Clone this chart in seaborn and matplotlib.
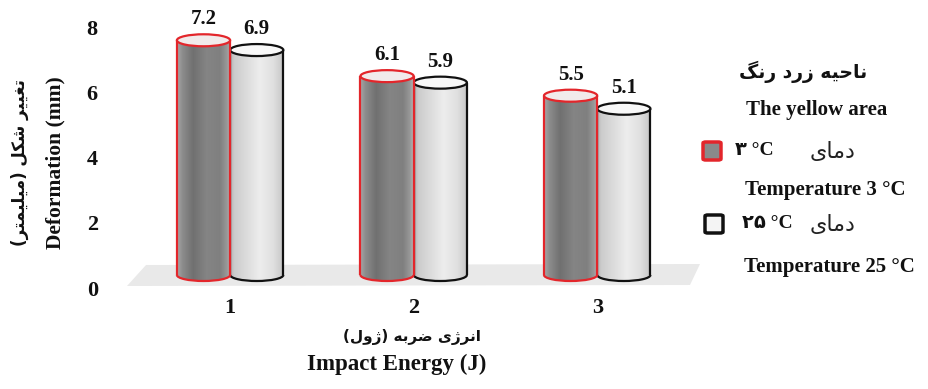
import numpy as np
import pandas as pd
import matplotlib
matplotlib.use("Agg")
import matplotlib.pyplot as plt
import seaborn as sns
from matplotlib.patches import Rectangle, Ellipse, Arc, Polygon, FancyBboxPatch
from matplotlib.transforms import ScaledTranslation

# ---------------- data ----------------
energies = ["1", "2", "3"]
temps = ["3 °C", "25 °C"]
deform_3c = [7.2, 6.1, 5.5]
deform_25c = [6.9, 5.9, 5.1]
yticks = [0, 2, 4, 6, 8]

# ---------------- minimal Persian shaping ----------------
FORMS = {
    'ا': ('\uFE8D', '\uFE8E', None, None),
    'ب': ('\uFE8F', '\uFE90', '\uFE91', '\uFE92'),
    'ت': ('\uFE95', '\uFE96', '\uFE97', '\uFE98'),
    'ح': ('\uFEA1', '\uFEA2', '\uFEA3', '\uFEA4'),
    'د': ('\uFEA9', '\uFEAA', None, None),
    'ر': ('\uFEAD', '\uFEAE', None, None),
    'ز': ('\uFEAF', '\uFEB0', None, None),
    'ژ': ('\uFB8A', '\uFB8B', None, None),
    'ش': ('\uFEB5', '\uFEB6', '\uFEB7', '\uFEB8'),
    'ض': ('\uFEBD', '\uFEBE', '\uFEBF', '\uFEC0'),
    'غ': ('\uFECD', '\uFECE', '\uFECF', '\uFED0'),
    'ک': ('\uFB8E', '\uFB8F', '\uFB90', '\uFB91'),
    'گ': ('\uFB92', '\uFB93', '\uFB94', '\uFB95'),
    'ل': ('\uFEDD', '\uFEDE', '\uFEDF', '\uFEE0'),
    'م': ('\uFEE1', '\uFEE2', '\uFEE3', '\uFEE4'),
    'ن': ('\uFEE5', '\uFEE6', '\uFEE7', '\uFEE8'),
    'ه': ('\uFEE9', '\uFEEA', '\uFEEB', '\uFEEC'),
    'و': ('\uFEED', '\uFEEE', None, None),
    'ی': ('\uFBFC', '\uFBFD', '\uFBFE', '\uFBFF'),
}


def fa(s):
    chars = list(s)
    out = []
    for i, c in enumerate(chars):
        if c not in FORMS:
            out.append(c)
            continue
        prev = chars[i - 1] if i > 0 else None
        nxt = chars[i + 1] if i + 1 < len(chars) else None
        cp = prev in FORMS and FORMS[prev][2] is not None
        cn = FORMS[c][2] is not None and nxt in FORMS
        iso, fin, ini, med = FORMS[c]
        out.append(med if (cp and cn) else fin if cp else ini if cn else iso)
    vis = ''.join(out)[::-1]
    mirror = {'(': ')', ')': '('}
    return ''.join(mirror.get(c, c) for c in vis)


# ---------------- style ----------------
sns.set_style("white")
plt.rcParams['font.family'] = ['Liberation Serif', 'DejaVu Sans']
plt.rcParams['font.weight'] = 'bold'

W, H = 929, 389
fig = plt.figure(figsize=(W / 100, H / 100), dpi=100)


def fx(px):
    return px / W


def fy(py):
    return 1 - py / H


# axes: y=0 at 275px, 32.6 px per unit
ppu = 32.6
ymin, ymax = -0.5, 8.0
ax_left, ax_right = 120, 700
ax_bottom = 275 - ymin * ppu
ax_top = 275 - ymax * ppu
ax = fig.add_axes([fx(ax_left), fy(ax_bottom), (ax_right - ax_left) / W,
                   (ax_bottom - ax_top) / H])

# floor band (decoration)
floor = Polygon([[fx(127), fy(286)], [fx(146), fy(265)], [fx(700), fy(264)],
                 [fx(690), fy(285)]], closed=True, transform=fig.transFigure,
                facecolor='#e9e9e9', edgecolor='none', zorder=0)
fig.add_artist(floor)
ax.set_facecolor('none')

df = pd.DataFrame({
    "energy": energies * 2,
    "deformation": deform_3c + deform_25c,
    "temp": [temps[0]] * 3 + [temps[1]] * 3,
})
sns.barplot(data=df, x="energy", y="deformation", hue="temp",
            hue_order=temps, order=energies, width=0.58,
            palette=["#808080", "#dddddd"], legend=False, ax=ax,
            errorbar=None)

ax.set_xlim(-0.6, 2.56)
ax.set_ylim(ymin, ymax)

ell_h = 12 / ppu


def gradient(stops, n=200):
    xs = np.linspace(0, 1, n)
    pos = [s[0] for s in stops]
    val = [s[1] for s in stops]
    g = np.interp(xs, pos, val)
    return np.dstack([g, g, g]).reshape(1, n, 3)


grad_dark = gradient([(0, 0.66), (0.1, 0.55), (0.3, 0.44), (0.55, 0.52),
                      (0.8, 0.50), (0.93, 0.60), (1.0, 0.72)])
grad_light = gradient([(0, 0.70), (0.08, 0.80), (0.3, 0.86), (0.55, 0.93),
                       (0.8, 0.88), (0.95, 0.80), (1.0, 0.72)])

styles = [
    dict(grad=grad_dark, edge='#e3262b', top='#f1ebeb', z=4),
    dict(grad=grad_light, edge='#111111', top='#f8f8f8', z=3),
]

for cont, st in zip(ax.containers, styles):
    for bar in cont:
        x0 = bar.get_x()
        w = bar.get_width()
        h = bar.get_height()
        bar.set_alpha(0)
        cx = x0 + w / 2
        z = st['z']
        # body
        im = ax.imshow(st['grad'], extent=(x0, x0 + w, -ell_h, h),
                       aspect='auto', zorder=z, interpolation='bilinear')
        clip = Rectangle((x0, 0), w, h, transform=ax.transData)
        im.set_clip_path(clip)
        # bottom half ellipse
        im2 = ax.imshow(st['grad'], extent=(x0, x0 + w, -ell_h, h),
                        aspect='auto', zorder=z, interpolation='bilinear')
        clip2 = Ellipse((cx, 0), w, ell_h, transform=ax.transData)
        im2.set_clip_path(clip2)
        # outlines
        ax.plot([x0, x0], [0, h], color=st['edge'], lw=1.6, zorder=z + 0.1,
                solid_capstyle='butt')
        ax.plot([x0 + w, x0 + w], [0, h], color=st['edge'], lw=1.6,
                zorder=z + 0.1, solid_capstyle='butt')
        ax.add_patch(Arc((cx, 0), w, ell_h, theta1=180, theta2=360,
                         color=st['edge'], lw=1.6, zorder=z + 0.1))
        ax.add_patch(Ellipse((cx, h), w, ell_h, facecolor=st['top'],
                             edgecolor=st['edge'], lw=1.6, zorder=z + 0.2))
        ax.annotate(f"{h:.1f}", (cx, h), xytext=(0, 21),
                    textcoords='offset pixels', ha='center', va='center',
                    fontsize=15, fontweight='bold', color='#111111',
                    zorder=10)

ax.set_ylim(ymin, ymax)
ax.set_xlim(-0.6, 2.56)
ax.set_yticks(yticks)
ax.set_yticklabels([str(v) for v in yticks])
ax.tick_params(axis='both', length=0, labelsize=16, colors='#111111')
ax.tick_params(axis='y', pad=16)
ax.tick_params(axis='x', pad=5)
for lab in ax.get_yticklabels() + ax.get_xticklabels():
    lab.set_fontweight('bold')
shift = ScaledTranslation(0, -0.13, fig.dpi_scale_trans)
for lab in ax.get_yticklabels():
    lab.set_transform(lab.get_transform() + shift)
for s in ax.spines.values():
    s.set_visible(False)
ax.set_xlabel("")
ax.set_ylabel("")

# axis titles
fig.text(fx(20), fy(163), fa("تغییر شکل (میلیمتر)"), rotation=90,
         ha='center', va='center', fontsize=12, fontweight='bold',
         family=['DejaVu Sans'], color='#111111')
fig.text(fx(55), fy(163), "Deformation (mm)", rotation=90, ha='center',
         va='center', fontsize=15.5, fontweight='bold', color='#111111')
fig.text(fx(412), fy(337), fa("انرژی ضربه (ژول)"), ha='center', va='center',
         fontsize=11, fontweight='bold', family=['DejaVu Sans'],
         color='#111111')
fig.text(fx(397), fy(364), "Impact Energy (J)", ha='center', va='center',
         fontsize=16.5, fontweight='bold', color='#111111')

# legend
fig.text(fx(803), fy(72), fa("ناحیه زرد رنگ"), ha='center', va='center',
         fontsize=13.5, fontweight='bold', family=['DejaVu Sans'],
         color='#111111')
fig.text(fx(817), fy(110), "The yellow area", ha='center', va='center',
         fontsize=15, fontweight='bold', color='#111111')


def legend_box(cx, cy, face, edge):
    s = 18
    p = FancyBboxPatch((fx(cx - s / 2), fy(cy + s / 2)), s / W, s / H,
                       boxstyle="round,pad=0,rounding_size=0.003",
                       transform=fig.transFigure, facecolor=face,
                       edgecolor=edge, lw=2.5)
    fig.add_artist(p)


legend_box(712, 151, '#8a8a8a', '#e3262b')
fig.text(fx(735), fy(151), "۳ °C", ha='left', va='center', fontsize=14,
         fontweight='bold', color='#111111')
fig.text(fx(856), fy(152), fa("دمای"), ha='right', va='center', fontsize=16,
         fontweight='normal', family=['DejaVu Sans'], color='#222222')
fig.text(fx(825), fy(190), "Temperature 3 °C", ha='center', va='center',
         fontsize=15, fontweight='bold', color='#111111')

legend_box(714, 224, '#f4f4f4', '#111111')
fig.text(fx(742), fy(224), "۲۵ °C", ha='left', va='center', fontsize=14,
         fontweight='bold', color='#111111')
fig.text(fx(856), fy(225), fa("دمای"), ha='right', va='center', fontsize=16,
         fontweight='normal', family=['DejaVu Sans'], color='#222222')
fig.text(fx(829), fy(267), "Temperature 25 °C", ha='center', va='center',
         fontsize=15, fontweight='bold', color='#111111')

fig.savefig("out.png", dpi=100)
